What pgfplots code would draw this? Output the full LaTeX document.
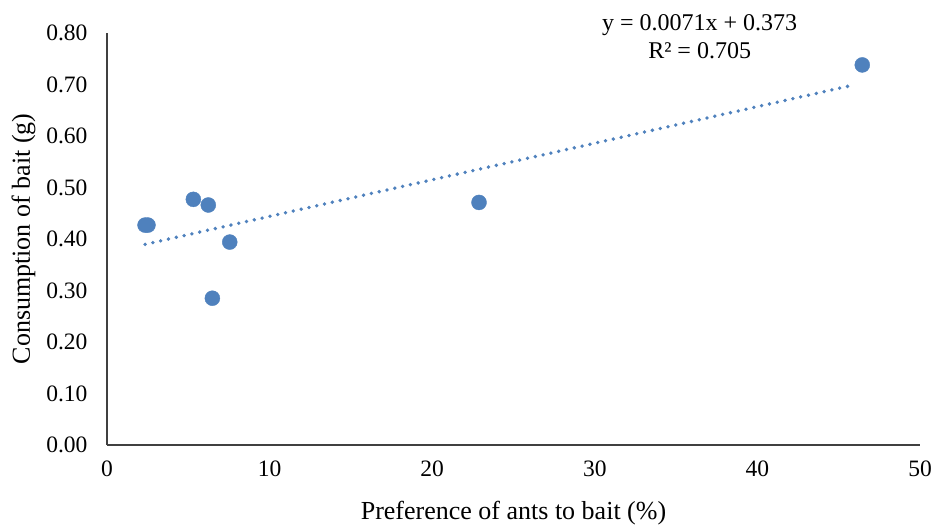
\documentclass[border=0pt]{standalone}
\usepackage{pgfplots}
\pgfplotsset{compat=1.18}
\usepackage{fontspec}
\setmainfont{Liberation Serif}
\definecolor{ptblue}{RGB}{79,129,189}
\begin{document}
\fontsize{22}{26}\selectfont
\begin{tikzpicture}[x=1pt,y=1pt]
\path[use as bounding box] (-107,-80) rectangle (830,445);
\begin{axis}[
  at={(0,0)}, anchor=origin,
  scale only axis, width=813pt, height=412pt,
  xmin=0, xmax=50, ymin=0, ymax=0.8,
  xtick={0,10,...,50}, ytick={0,0.1,...,0.8},
  axis x line*=bottom, axis y line*=left,
  axis line style={draw=black!75, line width=1.2pt, -},
  tick style={draw=none},
  /pgf/number format/assume math mode=true,
  yticklabel style={/pgf/number format/fixed,/pgf/number format/fixed zerofill,/pgf/number format/precision=2, xshift=-12pt, font=\fontsize{23.5}{27}\selectfont},
  xticklabel style={yshift=-8pt, font=\fontsize{23.5}{27}\selectfont},
  scaled y ticks=false,
  xlabel={Preference of ants to bait (\%)},
  ylabel={Consumption of bait (g)},
  label style={font=\fontsize{26}{30}\selectfont},
  xlabel style={yshift=-10pt},
  ylabel style={yshift=-4pt},
  clip=false,
]
\addplot[only marks, mark=*, mark size=7.5pt, mark options={fill=ptblue, draw=ptblue}] coordinates {
(2.34,0.427) (2.52,0.427) (5.31,0.477) (6.23,0.466) (6.48,0.285) (7.55,0.394) (22.88,0.471) (46.45,0.738)
};
\addplot[ptblue, line width=3.8pt, line cap=round, dash pattern=on 0pt off 8pt] coordinates {(2.34,0.3896) (46.0,0.6996)};
\node[align=center, font=\fontsize{24}{28}\selectfont, inner sep=0pt] at (rel axis cs:0.729,0.992) {y = 0.0071x + 0.373\\R² = 0.705};
\end{axis}
\end{tikzpicture}
\end{document}
